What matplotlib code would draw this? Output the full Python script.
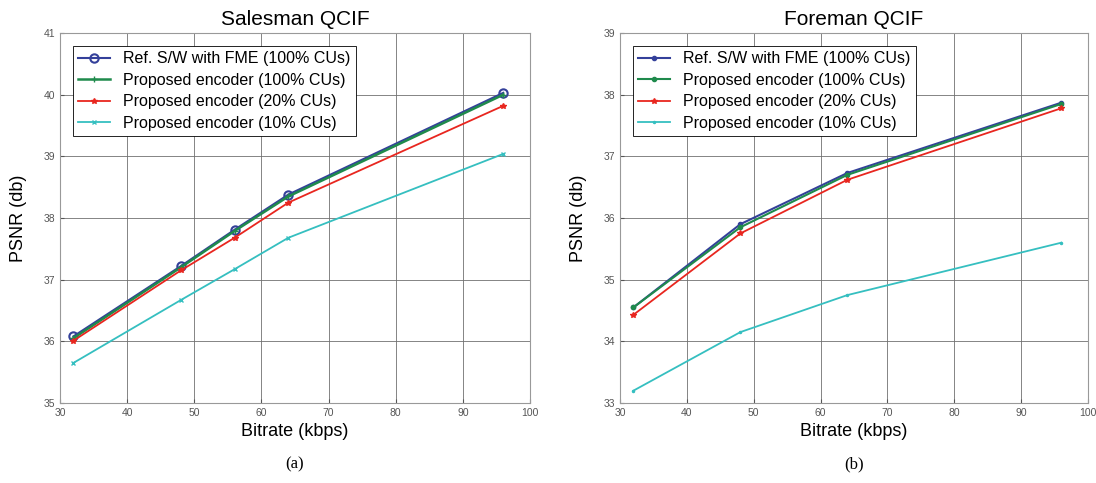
import numpy as np
import matplotlib.pyplot as plt

plt.rcParams['font.family'] = ['Liberation Sans', 'DejaVu Sans']

# Salesman QCIF
sales_rate = [32, 48, 56, 64, 96]
sales_ref = [36.08, 37.22, 37.81, 38.38, 40.03]
sales_p100 = [36.05, 37.20, 37.79, 38.35, 40.00]
sales_p20 = [36.01, 37.15, 37.68, 38.25, 39.82]
sales_p10 = [35.65, 36.67, 37.17, 37.68, 39.04]

# Foreman QCIF
fore_rate = [32, 48, 64, 96]
fore_ref = [34.55, 35.90, 36.73, 37.87]
fore_p100 = [34.55, 35.85, 36.70, 37.85]
fore_p20 = [34.43, 35.75, 36.62, 37.78]
fore_p10 = [33.20, 34.15, 34.75, 35.60]

labels = ["Ref. S/W with FME (100% CUs)",
          "Proposed encoder (100% CUs)",
          "Proposed encoder (20% CUs)",
          "Proposed encoder (10% CUs)"]

BLUE = "#34409a"
GREEN = "#1f8a4c"
RED = "#e8261f"
CYAN = "#35bfc0"

fig = plt.figure(figsize=(10.96, 4.83), dpi=100)
ax1 = fig.add_axes([0.0547, 0.1656, 0.429, 0.766])
ax2 = fig.add_axes([0.5657, 0.1656, 0.427, 0.766])


def style(ax, ylim, title, letter):
    ax.set_xlim(30, 100)
    ax.set_ylim(*ylim)
    ax.set_xticks(np.arange(30, 101, 10))
    ax.set_yticks(np.arange(ylim[0], ylim[1] + 1, 1))
    ax.grid(True, color="#707070", linewidth=0.6)
    ax.tick_params(direction="in", labelsize=7.5, colors="#555555", length=3)
    for s in ax.spines.values():
        s.set_color("#999999")
        s.set_linewidth(0.8)
    ax.set_title(title, fontsize=15, pad=6)
    ax.set_xlabel("Bitrate (kbps)", fontsize=13, labelpad=4)
    ax.set_ylabel("PSNR (db)", fontsize=13, labelpad=12)
    ax.text(0.5, -0.145, letter, transform=ax.transAxes, ha="center", va="top",
            fontsize=12, family="Liberation Serif")
    leg = ax.legend(loc="upper left", fontsize=11.5, fancybox=False,
                    edgecolor="black", framealpha=1, handlelength=2.0,
                    borderaxespad=0.8, labelspacing=0.4, borderpad=0.35)
    leg.get_frame().set_linewidth(0.6)


ax1.plot(sales_rate, sales_ref, color=BLUE, marker="o", mfc="none", ms=6,
         mew=1.5, lw=1.5, label=labels[0])
ax1.plot(sales_rate, sales_p100, color=GREEN, marker="+", ms=4, lw=1.8, label=labels[1])
ax1.plot(sales_rate, sales_p20, color=RED, marker="*", ms=4, lw=1.3, label=labels[2])
ax1.plot(sales_rate, sales_p10, color=CYAN, marker="x", ms=3.5, lw=1.3, label=labels[3])
style(ax1, (35, 41), "Salesman QCIF", "(a)")

ax2.plot(fore_rate, fore_ref, color=BLUE, marker=".", ms=6, lw=1.5, label=labels[0])
ax2.plot(fore_rate, fore_p100, color=GREEN, marker=".", ms=6, lw=1.5, label=labels[1])
ax2.plot(fore_rate, fore_p20, color=RED, marker="*", ms=4, lw=1.3, label=labels[2])
ax2.plot(fore_rate, fore_p10, color=CYAN, marker=".", ms=3, lw=1.3, label=labels[3])
style(ax2, (33, 39), "Foreman QCIF", "(b)")

fig.savefig("out.png", dpi=100)
